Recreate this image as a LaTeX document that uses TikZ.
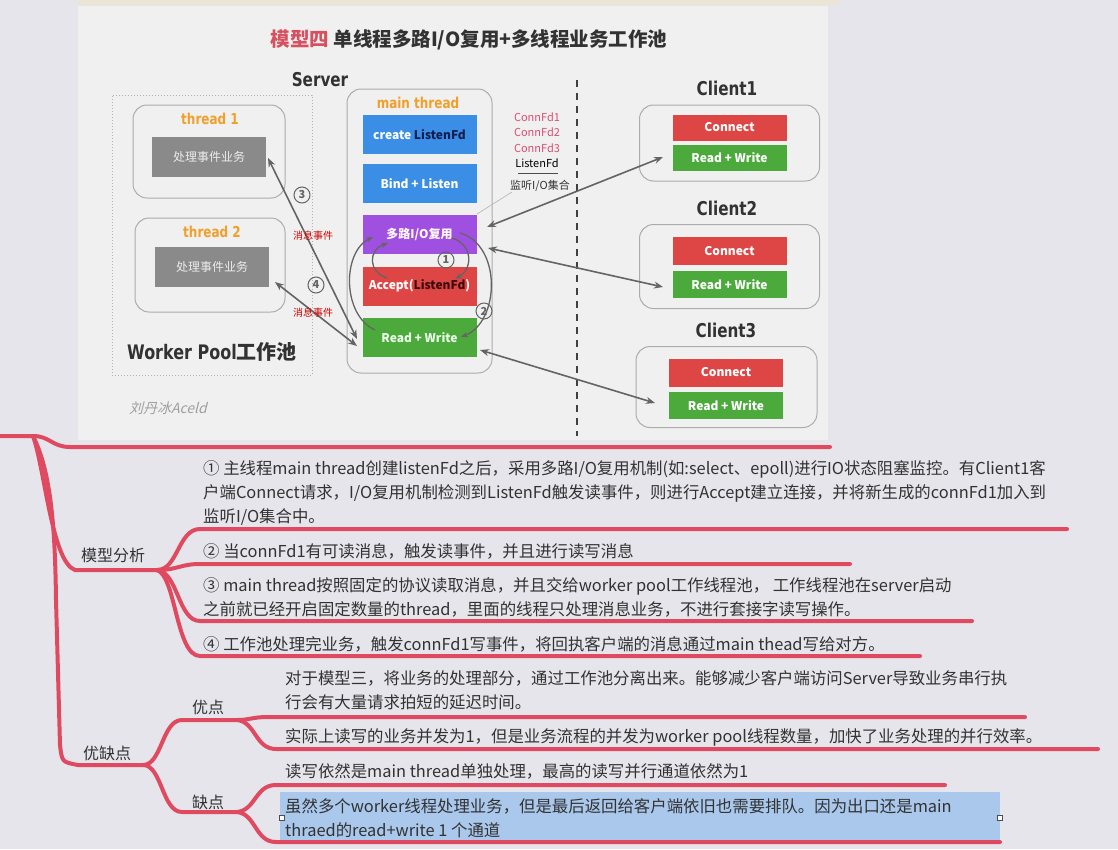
\documentclass[tikz,border=0pt]{standalone}
\usepackage{fontspec}
\setmainfont{Noto Sans CJK SC}
\newfontfamily\condb[FakeStretch=0.8]{DejaVu Sans}
\newfontfamily\wmfont[FakeSlant=0.25]{Noto Sans CJK SC}
\usetikzlibrary{arrows.meta}
\definecolor{bgc}{RGB}{230,229,236}
\definecolor{panelc}{RGB}{240,240,240}
\definecolor{stripc}{RGB}{236,228,212}
\definecolor{mmred}{RGB}{224,74,96}
\definecolor{txt}{RGB}{50,50,50}
\definecolor{blueb}{RGB}{58,142,230}
\definecolor{purpb}{RGB}{160,80,225}
\definecolor{redb}{RGB}{222,70,70}
\definecolor{greenb}{RGB}{76,170,60}
\definecolor{grayb}{RGB}{138,138,138}
\definecolor{orangec}{RGB}{240,160,40}
\definecolor{pinkc}{RGB}{215,80,115}
\definecolor{arrc}{RGB}{100,100,100}
\definecolor{hl}{RGB}{170,200,236}
\definecolor{titlered}{RGB}{215,80,95}
\definecolor{navy}{RGB}{20,30,80}
\definecolor{darkr}{RGB}{60,10,10}
\tikzset{
  myt/.tip={Stealth[length=9pt,width=7pt]},
  smt/.tip={Stealth[length=7pt,width=5.5pt]},
  rbox/.style={draw=gray!65, rounded corners=14pt, fill=panelc, line width=1pt, inner sep=0},
  fbox/.style={minimum width=114pt, minimum height=39pt, inner sep=0, text=white,
     font=\fontsize{12}{14}\selectfont\bfseries},
  gbox/.style={fill=grayb, minimum width=114pt, minimum height=40pt, inner sep=0,
     text=white!85!gray, font=\fontsize{12}{14}\selectfont},
  cbox/.style={minimum width=114pt, minimum height=26pt, inner sep=0, text=white,
     font=\fontsize{12}{14}\selectfont\bfseries},
  lab/.style={font=\fontsize{19}{21}\selectfont\condb\bfseries, text=txt},
  olab/.style={font=\fontsize{15}{17}\selectfont\condb\bfseries, text=orangec},
  arr/.style={draw=arrc, line width=1.6pt, myt-myt},
  arr1/.style={draw=arrc, line width=1.3pt, -smt},
  circnum/.style={circle, draw=arrc, line width=1pt, minimum size=16pt, inner sep=0,
     font=\fontsize{11}{11}\selectfont\bfseries, text=arrc},
  ev/.style={text=red!80!black, font=\fontsize{10}{12}\selectfont},
  cf/.style={text=pinkc, font=\fontsize{11}{13}\selectfont, inner sep=0},
  mm/.style={draw=mmred, line width=4pt, line cap=round},
  item/.style={anchor=west, inner sep=0, align=left, text=txt, font=\fontsize{16.4}{24}\selectfont},
  mlab/.style={inner sep=0, text=txt, font=\fontsize{16}{18}\selectfont}
}
\begin{document}
\begin{tikzpicture}[x=1pt,y=-1pt]
\useasboundingbox (0,0) rectangle (1118,849);
\fill[bgc] (0,0) rectangle (1118,849);
\fill[panelc] (78,6) rectangle (828,440);
\fill[stripc] (78,0) rectangle (840,5);

% title
\node[font=\fontsize{19.5}{22}\selectfont\bfseries, text=txt] (title) at (469,40)
  {\textcolor{titlered}{模型四} 单线程多路I/O复用+多线程业务工作池};
\node[lab] (server) at (320,80) {Server};

% worker pool
\node[draw=gray!60, dotted, line width=1pt, minimum width=200pt, minimum height=280pt, inner sep=0] (pool) at (212,235) {};
\node[rbox, minimum width=152pt, minimum height=93pt] (t1box) at (209,151.5) {};
\node[rbox, minimum width=150pt, minimum height=94pt] (t2box) at (210,265) {};
\node[olab] (t1lab) at (210,119) {thread 1};
\node[olab] (t2lab) at (212,232) {thread 2};
\node[gbox] (w1) at (209,157) {处理事件业务};
\node[gbox] (w2) at (212,267) {处理事件业务};
\node[font=\fontsize{20}{22}\selectfont, text=txt] (wp) at (212,352) {{\condb\bfseries Worker Pool}\bfseries 工作池};

% main thread
\node[rbox, minimum width=145pt, minimum height=284pt] (mt) at (419.5,231) {};
\node[olab] (mtlab) at (418,103) {main thread};
\node[fbox, fill=blueb] (create) at (419.5,134.5) {create \textcolor{navy}{ListenFd}};
\node[fbox, fill=blueb] (bind) at (419.5,183.5) {Bind + Listen};
\node[fbox, fill=purpb, text=white!90!pink] (mux) at (419.5,234.5) {多路I/O复用};
\node[fbox, fill=redb] (acc) at (419.5,286) {Accept(\textcolor{darkr}{ListenFd})};
\node[fbox, fill=greenb, text=white!92!green] (rw) at (419.5,337.5) {Read + Write};

% fd set
\node[cf] (cf1) at (537,117) {ConnFd1};
\node[cf] (cf2) at (537,132) {ConnFd2};
\node[cf] (cf3) at (537,148) {ConnFd3};
\node[cf, text=black] (lf) at (537,163) {ListenFd};
\draw[black!70, line width=0.8pt] (518,173) -- (558,173);
\node[cf, text=txt] (set) at (540,186) {监听I/O集合};
\coordinate (setl) at (512,192);
\coordinate (muxtr) at (477,214);
\draw[gray!55, line width=0.7pt] (setl) -- (muxtr);

% separator
\draw[black!75, line width=1.3pt, dash pattern=on 7pt off 6pt] (577,80) -- (577,436);

% clients
\node[lab] (c1lab) at (727,88) {Client1};
\node[rbox, minimum width=180pt, minimum height=76pt] (c1) at (729.5,143) {};
\node[cbox, fill=redb] (c1c) at (729.5,127.5) {Connect};
\node[cbox, fill=greenb] (c1rw) at (729.5,157.5) {Read + Write};
\node[lab] (c2lab) at (727,208) {Client2};
\node[rbox, minimum width=180pt, minimum height=84pt] (c2) at (729.5,266.5) {};
\node[cbox, fill=redb, minimum height=28pt] (c2c) at (729.5,251) {Connect};
\node[cbox, fill=greenb, minimum height=27pt] (c2rw) at (729.5,284.5) {Read + Write};
\node[lab] (c3lab) at (726,330) {Client3};
\node[rbox, minimum width=181pt, minimum height=81pt] (c3) at (726.5,387) {};
\node[cbox, fill=redb, minimum height=28pt] (c3c) at (726,372.5) {Connect};
\node[cbox, fill=greenb, minimum height=27pt] (c3rw) at (726,405.5) {Read + Write};

% client arrows
\coordinate (a1s) at (487,227);
\coordinate (a1e) at (663,157);
\coordinate (a2s) at (488,248);
\coordinate (a2e) at (663,287);
\coordinate (a3s) at (480,350);
\coordinate (a3e) at (655,403);
\draw[arr] (a1s) -- (a1e);
\draw[arr] (a2s) -- (a2e);
\draw[arr] (a3s) -- (a3e);

% worker arrows
\coordinate (w1e) at (268,158);
\coordinate (r3) at (357,339);
\coordinate (w2e) at (275,282);
\coordinate (r4) at (357,346);
\draw[arr] (w1e) -- (r3);
\draw[arr] (w2e) -- (r4);
\node[circnum] (n3) at (302,195) {3};
\node[circnum] (n4) at (316,285) {4};
\node[ev] (ev1) at (313,236) {消息事件};
\node[ev] (ev2) at (313,313) {消息事件};

% loops inside main thread
\coordinate (l1s) at (452,238);
\coordinate (l1e) at (455,279);
\draw[arr1] (l1s) .. controls (472,244) and (474,268) .. (l1e);
\node[circnum] (n1) at (446,260) {1};
\coordinate (l0s) at (387,278);
\coordinate (l0e) at (388,243);
\draw[arr1] (l0s) .. controls (368,272) and (368,250) .. (l0e);
\coordinate (l2s) at (460,233);
\coordinate (l2e) at (461,337);
\draw[arr1] (l2s) .. controls (502,245) and (500,322) .. (l2e);
\node[circnum] (n2) at (484,311) {2};
\coordinate (l3s) at (375,330);
\coordinate (l3e) at (373,237);
\draw[arr1] (l3s) .. controls (342,315) and (342,252) .. (l3e);

% watermark
\node[font=\fontsize{14}{16}\selectfont, text=gray!75] (wm) at (168,408) {\wmfont 刘丹冰Aceld};

% ---------- mind map ----------
\coordinate (root) at (0,436);
\coordinate (hub) at (33,436);
\coordinate (mmb) at (157,570);
\coordinate (yqb) at (143,765);
\coordinate (ydb) at (237,720);
\coordinate (qdb) at (237,812);
\fill[hl] (280,792) rectangle (1000,840);
\draw[mm] (root) -- (hub) .. controls (50,436) and (52,447) .. (70,447) -- (830,447);
\draw[mm] (hub) .. controls (45,470) and (52,562) .. (75,570) -- (mmb);
\draw[mm] (hub) .. controls (50,470) and (55,520) .. (56,600) -- (60,745) .. controls (62,762) .. (78,765) -- (yqb);
\draw[mm] (mmb) .. controls (178,570) and (178,529) .. (200,529) -- (1067,529);
\draw[mm] (mmb) .. controls (178,570) and (180,564) .. (200,564) -- (850,564);
\draw[mm] (mmb) .. controls (178,572) and (178,621) .. (200,621) -- (972,621);
\draw[mm] (mmb) .. controls (176,576) and (176,656) .. (200,656) -- (920,656);
\draw[mm] (yqb) .. controls (162,765) and (162,720) .. (182,720) -- (ydb);
\draw[mm] (yqb) .. controls (162,765) and (162,812) .. (182,812) -- (qdb);
\draw[mm] (ydb) .. controls (250,720) and (252,717) .. (268,717) -- (1025,717);
\draw[mm] (ydb) .. controls (256,722) and (255,749) .. (276,749) -- (1098,749);
\draw[mm] (qdb) .. controls (256,810) and (255,785) .. (276,785) -- (945,785);
\draw[mm] (qdb) .. controls (256,814) and (255,842) .. (276,842) -- (1000,842);

\node[mlab] (mmx) at (113,555) {模型分析};
\node[mlab] (yqx) at (107,753) {优缺点};
\node[mlab] (ydx) at (208,707) {优点};
\node[mlab] (qdx) at (208,802) {缺点};

\node[item] (i1) at (203,493) {① 主线程main thread创建listenFd之后，采用多路I/O复用机制(如:select、epoll)进行IO状态阻塞监控。有Client1客\\户端Connect请求，I/O复用机制检测到ListenFd触发读事件，则进行Accept建立连接，并将新生成的connFd1加入到\\监听I/O集合中。};
\node[item] (i2) at (203,551) {② 当connFd1有可读消息，触发读事件，并且进行读写消息};
\node[item] (i3) at (203,597.5) {③ main thread按照固定的协议读取消息，并且交给worker pool工作线程池， 工作线程池在server启动\\之前就已经开启固定数量的thread，里面的线程只处理消息业务，不进行套接字读写操作。};
\node[item] (i4) at (203,644) {④ 工作池处理完业务，触发connFd1写事件，将回执客户端的消息通过main thead写给对方。};
\node[item] (p1) at (285,690) {对于模型三，将业务的处理部分，通过工作池分离出来。能够减少客户端访问Server导致业务串行执\\行会有大量请求拍短的延迟时间。};
\node[item] (p2) at (285,737) {实际上读写的业务并发为1，但是业务流程的并发为worker pool线程数量，加快了业务处理的并行效率。};
\node[item] (c1t) at (285,771) {读写依然是main thread单独处理，最高的读写并行通道依然为1};
\node[item] (c2t) at (285,818) {虽然多个worker线程处理业务，但是最后返回给客户端依旧也需要排队。因为出口还是main\\thraed的read+write 1 个通道};
\draw[black!70, fill=white, line width=0.6pt] (279,815) rectangle (284,820);
\draw[black!70, fill=white, line width=0.6pt] (997,815) rectangle (1002,820);
\end{tikzpicture}
\end{document}
